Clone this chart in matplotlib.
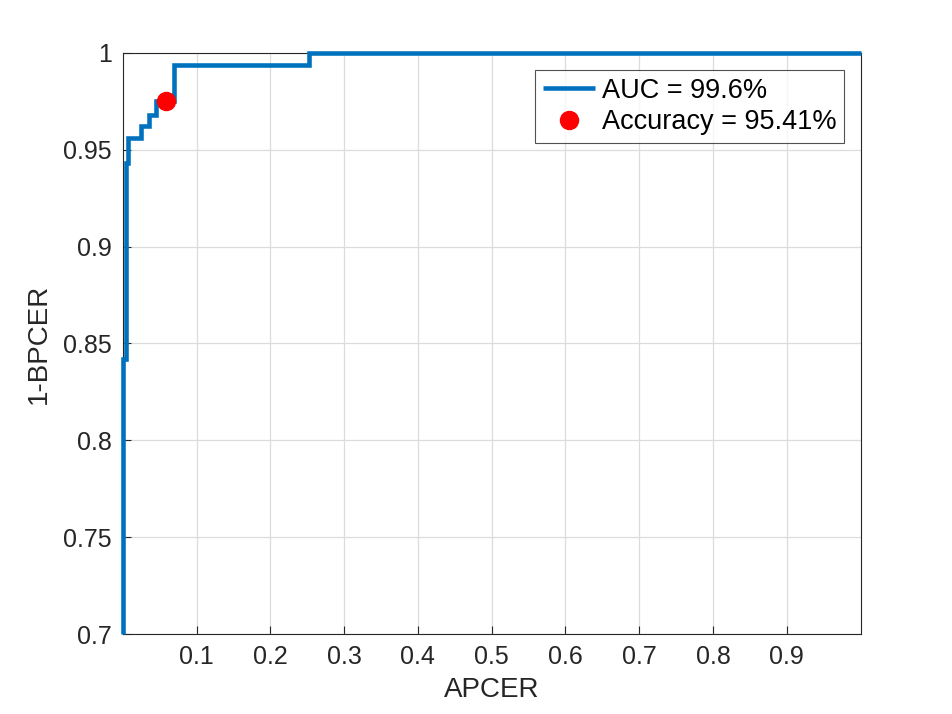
import numpy as np
import matplotlib.pyplot as plt

plt.rcParams["font.family"] = ["Liberation Sans", "DejaVu Sans"]

# ROC step curve (APCER vs 1-BPCER)
apcer = [0.0, 0.0, 0.004, 0.004, 0.007, 0.007, 0.025, 0.025, 0.035, 0.035,
         0.045, 0.045, 0.070, 0.070, 0.253, 0.253, 1.0]
tpr = [0.70, 0.842, 0.842, 0.943, 0.943, 0.956, 0.956, 0.962, 0.962, 0.968,
       0.968, 0.975, 0.975, 0.9935, 0.9935, 1.0, 1.0]

acc_x = [0.058]
acc_y = [0.975]

auc_label = "AUC = 99.6%"
acc_label = "Accuracy = 95.41%"

xticks = [0.1, 0.2, 0.3, 0.4, 0.5, 0.6, 0.7, 0.8, 0.9]
yticks = [0.7, 0.75, 0.8, 0.85, 0.9, 0.95, 1.0]
yticklabels = ["0.7", "0.75", "0.8", "0.85", "0.9", "0.95", "1"]

fig = plt.figure(figsize=(9.52, 7.14), dpi=100)
ax = fig.add_axes([0.129, 0.112, 0.775, 0.814])

ax.plot(apcer, tpr, color="#0072BD", linewidth=3.3, label=auc_label,
        solid_joinstyle="miter", solid_capstyle="butt", clip_on=False,
        zorder=3)
ax.plot(acc_x, acc_y, "o", color="red", markersize=13, label=acc_label,
        linestyle="none", zorder=4)

ax.set_xlim(0, 1)
ax.set_ylim(0.7, 1)
ax.set_xticks(xticks)
ax.set_xticklabels([f"{t:g}" for t in xticks])
ax.set_yticks(yticks)
ax.set_yticklabels(yticklabels)

ax.grid(True, color="#dcdcdc", linewidth=0.9)
ax.set_axisbelow(True)
ax.tick_params(direction="in", length=6, labelsize=18, colors="#262626",
               top=False, right=False, pad=8)
for s in ax.spines.values():
    s.set_color("#262626")
    s.set_linewidth(0.8)

ax.set_xlabel("APCER", fontsize=20, color="#262626", labelpad=6)
ax.set_ylabel("1-BPCER", fontsize=20, color="#262626", labelpad=8)

leg = ax.legend(loc="upper right", fontsize=19.5, frameon=True, fancybox=False,
                edgecolor="#262626", borderpad=0.3, handlelength=1.9,
                labelspacing=0.2, handletextpad=0.25, borderaxespad=0,
                bbox_to_anchor=(0.978, 0.971))
leg.get_frame().set_linewidth(0.8)

fig.savefig("out.png", dpi=100, facecolor="white")
